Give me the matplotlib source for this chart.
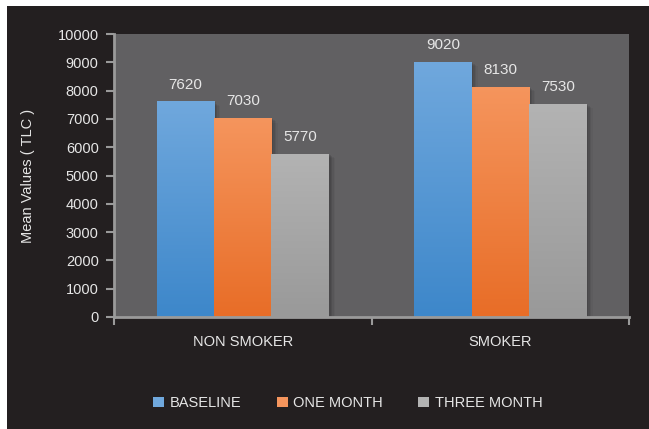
import numpy as np
import matplotlib
matplotlib.use('Agg')
import matplotlib.pyplot as plt
from matplotlib.patches import Rectangle
from matplotlib.colors import LinearSegmentedColormap

groups = ["NON SMOKER", "SMOKER"]
series = ["BASELINE", "ONE MONTH", "THREE MONTH"]
baseline = [7620, 9020]
one_month = [7030, 8130]
three_month = [5770, 7530]
yticks = [0, 1000, 2000, 3000, 4000, 5000, 6000, 7000, 8000, 9000, 10000]

# (top colour, bottom colour) for each series gradient
grads = [("#70a8dd", "#3d87ca"), ("#f5955d", "#e86d27"), ("#b3b3b3", "#999999")]
TEXT = "#e6e6e6"
DARK = "#231f20"

plt.rcParams['font.family'] = ['Liberation Sans', 'DejaVu Sans']

W, H = 649, 429
fig = plt.figure(figsize=(W / 100, H / 100), dpi=100, facecolor='white')
fig.patches.append(Rectangle((7 / W, 0), 1, 1 - 6 / H, transform=fig.transFigure,
                             facecolor=DARK, edgecolor='none', zorder=-10))

ax = fig.add_axes([114 / W, 1 - 317 / H, (629 - 114) / W, (317 - 34) / H])
ax.set_facecolor("#616062")

x = np.arange(len(groups))
width = 0.2233
data = [baseline, one_month, three_month]
grad = np.linspace(0, 1, 256).reshape(-1, 1)

for i, (vals, (top, bot)) in enumerate(zip(data, grads)):
    pos = x + (i - 1) * width
    cmap = LinearSegmentedColormap.from_list(series[i], [bot, top])
    bars = ax.bar(pos, vals, width, color=top, label=series[i], zorder=3)
    for b, v in zip(bars, vals):
        x0, w = b.get_x(), b.get_width()
        # soft drop shadow to the right and below
        for k, a in enumerate([0.10, 0.08, 0.06, 0.04]):
            sh = Rectangle((x0 + 0.006 * (k + 1), -40 * (k + 1)), w, v,
                           facecolor='black', alpha=a, edgecolor='none', zorder=2)
            ax.add_patch(sh)
        im = ax.imshow(grad, extent=[x0, x0 + w, 0, v], origin='lower', cmap=cmap,
                       aspect='auto', zorder=3.5)
        im.set_clip_path(b)
        ax.annotate(f"{v}", (x0 + w / 2, v), xytext=(0, 7), textcoords='offset points',
                    ha='center', va='bottom', color=TEXT, fontsize=11)

ax.set_xlim(-0.5, 1.5)
ax.set_ylim(0, 10000)
ax.set_yticks(yticks)
ax.set_yticklabels([str(t) for t in yticks])
ax.set_xticks([-0.5, 0.5, 1.5])
ax.set_xticklabels([])
ax.set_xticks(x, minor=True)
ax.set_xticklabels(groups, minor=True)
ax.tick_params(axis='x', which='minor', length=0, pad=13, labelsize=10.5, labelcolor=TEXT)
ax.tick_params(axis='x', which='major', length=6, width=1.5, color="#9a9a9a")
ax.tick_params(axis='y', length=6, width=1.5, color="#9a9a9a", labelsize=10.5,
               labelcolor=TEXT, pad=5)

for s in ['top', 'right']:
    ax.spines[s].set_visible(False)
for s in ['left', 'bottom']:
    ax.spines[s].set_color("#9a9a9a")
    ax.spines[s].set_linewidth(2)
    ax.spines[s].set_zorder(5)

ax.set_ylabel("Mean Values ( TLC )", color=TEXT, fontsize=10.5)
ax.yaxis.set_label_coords((35 - 114) / (629 - 114), 0.5)

handles, labels = ax.get_legend_handles_labels()
leg = fig.legend(handles, labels, loc='center', bbox_to_anchor=(348 / W, 1 - 403 / H),
                 ncol=3, frameon=False, fontsize=10.5, labelcolor=TEXT,
                 handlelength=0.75, handleheight=0.75, handletextpad=0.4,
                 columnspacing=2.4)

fig.savefig("out.png", dpi=100, facecolor=fig.get_facecolor())
